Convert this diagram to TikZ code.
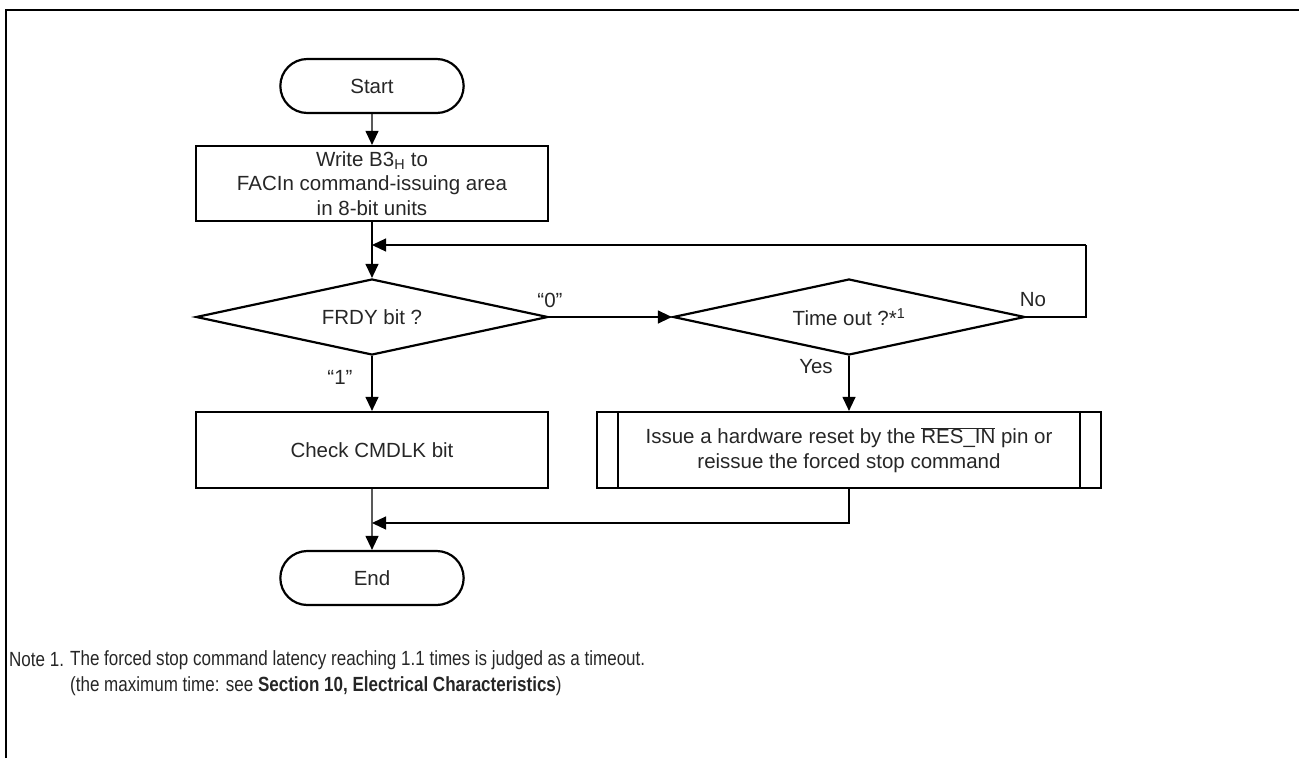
\documentclass[tikz,border=0pt]{standalone}
\usepackage{fontspec}
\setmainfont{Liberation Sans}
\newfontfamily\narrowfont[FakeStretch=0.83]{Liberation Sans}
\usetikzlibrary{positioning,shapes.geometric,shapes.misc,arrows.meta,calc}

\begin{document}
\begin{tikzpicture}[x=1pt, y=-1pt,
  every node/.style={text=black!85, font=\fontsize{20.5}{24.5}\selectfont},
  term/.style={draw, rounded rectangle, line width=2.2pt, minimum width=190pt, minimum height=54pt},
  proc/.style={draw, rectangle, line width=2.2pt, minimum width=352pt, minimum height=76pt, align=center},
  decide/.style={draw, diamond, aspect=4.6, line width=2.2pt, minimum width=352pt, minimum height=76pt, inner sep=0pt},
  predef/.style={proc, minimum width=504pt},
  flow/.style={line width=1.2pt, -{Triangle[length=14pt,width=13pt]}},
  link/.style={line width=1.2pt},
  lbl/.style={inner sep=0pt},
  note/.style={lbl, anchor=west, font=\narrowfont\fontsize{20.5}{24}\selectfont}]
\useasboundingbox (0,0) rectangle (1299,758);
\draw[line width=2pt] (6,758) -- (6,10) -- (1299,10);

\node[term] (start) at (372,86) {Start};
\node[proc, minimum height=75pt] (write) at (372,183.5) {Write B3\textsubscript{H} to\\FACIn command-issuing area\\in 8-bit units};
\node[decide] (frdy) at (372,317) {FRDY bit ?};
\node[decide] (tmo) at (849,317) {Time out ?*\textsuperscript{1}};
\node[proc] (check) at (372,450) {Check CMDLK bit};
\node[predef] (reset) at (849,450) {Issue a hardware reset by the $\overline{\mbox{RES\_IN}}$ pin or\\reissue the forced stop command};
\node[term] (end) at (372,578) {End};
\draw[line width=2.2pt] ([xshift=22pt]reset.north west) -- ([xshift=22pt]reset.south west)
  ([xshift=-22pt]reset.north east) -- ([xshift=-22pt]reset.south east);

\coordinate (back) at (1086,245);
\coordinate (join) at (372,523);

\draw[flow] (start) -- (write);
\draw[flow] (write) -- (frdy);
\draw[flow] (frdy) -- (check);
\draw[flow] (frdy) -- (tmo);
\draw[flow] (tmo) -- (reset);
\draw[flow] (check) -- (end);
\draw[link] (tmo.east) -| (back);
\draw[flow] (back) -- (back -| frdy.north);
\draw[flow] (reset.south) |- (join);

\node[lbl] (l0) at (550,300) {“0”};
\node[lbl] (l1) at (340,377) {“1”};
\node[lbl] (lno) at (1033,300) {No};
\node[lbl] (lyes) at (816,367) {Yes};

\node[note] (note) at (9,660) {Note 1.};
\node[note] (note1) at (70,660) {The forced stop command latency reaching 1.1 times is judged as a timeout.};
\node[note] (note2) at (70,686) {(the maximum time: see \textbf{Section 10, Electrical Characteristics})};
\end{tikzpicture}
\end{document}
